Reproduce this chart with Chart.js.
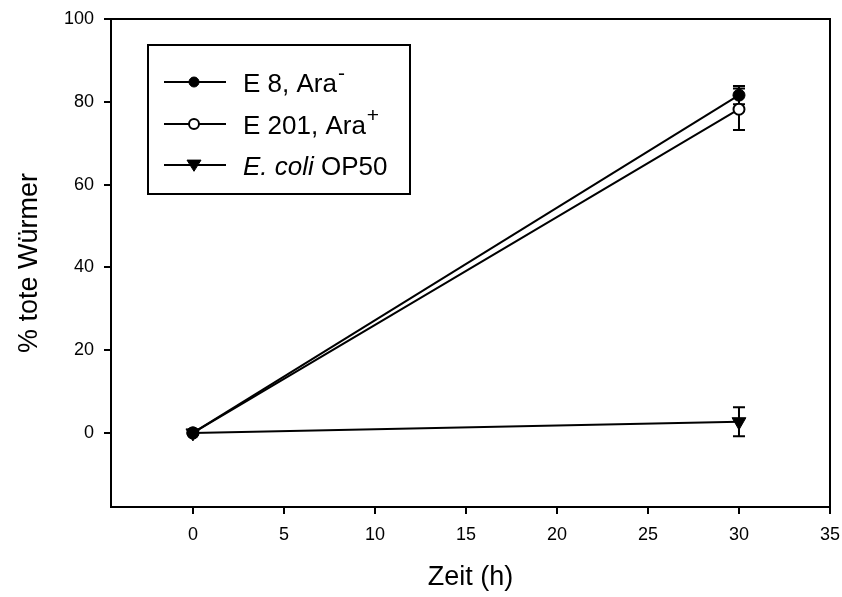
<!DOCTYPE html>
<html>
<head>
<meta charset="utf-8">
<script src="https://cdn.jsdelivr.net/npm/chart.js@4/dist/chart.umd.min.js"></script>
<style>
  html, body { margin: 0; padding: 0; background: #fff; }
  #wrap { width: 842px; height: 597px; }
</style>
</head>
<body>
<div id="wrap"><canvas id="myChart" width="842" height="597"></canvas></div>
<script>
// Initial variables
const times = [0, 30];
const e8Mean = [0, 81.6];
const e8Err = [0, 2.2];
const e201Mean = [0, 78.2];
const e201Err = [0, 5.0];
const op50Mean = [0, 2.7];
const op50Err = [0, 3.5];

const xTicks = [0, 5, 10, 15, 20, 25, 30, 35];
const yTicks = [0, 20, 40, 60, 80, 100];

const FONT = 'Arial, "Liberation Sans", Helvetica, sans-serif';

const toPoints = (ys) => times.map((t, i) => ({ x: t, y: ys[i] }));

// Error bars, drawn under the markers
const errorBars = {
  id: 'errorBars',
  beforeDatasetsDraw(chart) {
    const { ctx, scales: { x, y } } = chart;
    ctx.save();
    ctx.strokeStyle = '#000';
    ctx.lineWidth = 2;
    chart.data.datasets.forEach((ds) => {
      ds.data.forEach((p, i) => {
        const err = ds.errors[i];
        if (!err) return;
        const px = x.getPixelForValue(p.x);
        const top = y.getPixelForValue(p.y + err);
        const bot = y.getPixelForValue(p.y - err);
        ctx.beginPath();
        ctx.moveTo(px, top); ctx.lineTo(px, bot);
        ctx.moveTo(px - 6, top); ctx.lineTo(px + 6, top);
        ctx.moveTo(px - 6, bot); ctx.lineTo(px + 6, bot);
        ctx.stroke();
      });
    });
    ctx.restore();
  }
};

// Box around the plot area (top and right sides)
const frame = {
  id: 'frame',
  afterDraw(chart) {
    const { ctx, chartArea: a } = chart;
    ctx.save();
    ctx.strokeStyle = '#000';
    ctx.lineWidth = 2;
    ctx.strokeRect(a.left, a.top, a.right - a.left, a.bottom - a.top);
    ctx.restore();
  }
};

// Legend box with superscripts and italic species name
const boxLegend = {
  id: 'boxLegend',
  afterDraw(chart) {
    const { ctx } = chart;
    const bx = 148, by = 45, bw = 262, bh = 149;
    const rows = [
      { parts: [['E 8, Ara', 'n'], ['-', 'sup']] },
      { parts: [['E 201, Ara', 'n'], ['+', 'sup']] },
      { parts: [['E. coli', 'i'], [' OP50', 'n']] }
    ];
    const rowY = [82, 124, 165];
    const size = 26;
    ctx.save();
    ctx.fillStyle = '#fff';
    ctx.fillRect(bx, by, bw, bh);
    ctx.strokeStyle = '#000';
    ctx.lineWidth = 2;
    ctx.strokeRect(bx, by, bw, bh);

    rows.forEach((row, i) => {
      const ds = chart.data.datasets[i];
      const cy = rowY[i];
      ctx.strokeStyle = '#000';
      ctx.lineWidth = 2;
      ctx.beginPath();
      ctx.moveTo(164, cy); ctx.lineTo(226, cy);
      ctx.stroke();
      ctx.fillStyle = ds.pointBackgroundColor;
      ctx.strokeStyle = ds.pointBorderColor;
      ctx.lineWidth = ds.pointBorderWidth;
      ctx.beginPath();
      if (ds.pointStyle === 'circle') {
        ctx.arc(194, cy, ds.legendRadius, 0, Math.PI * 2);
      } else {
        const r = ds.legendRadius;
        ctx.moveTo(194 - r, cy - r * 0.7);
        ctx.lineTo(194 + r, cy - r * 0.7);
        ctx.lineTo(194, cy + r * 0.9);
        ctx.closePath();
      }
      ctx.fill();
      ctx.stroke();

      let tx = 243;
      ctx.fillStyle = '#000';
      ctx.textBaseline = 'alphabetic';
      row.parts.forEach(([txt, kind]) => {
        if (kind === 'sup') {
          ctx.font = `${Math.round(size * 0.8)}px ${FONT}`;
          ctx.fillText(txt, tx + 1, cy - 2);
        } else {
          ctx.font = `${kind === 'i' ? 'italic ' : ''}${size}px ${FONT}`;
          ctx.fillText(txt, tx, cy + 10);
        }
        tx += ctx.measureText(txt).width;
      });
    });
    ctx.restore();
  }
};

const ctx = document.getElementById('myChart').getContext('2d');

const myChart = new Chart(ctx, {
  type: 'line',
  data: {
    datasets: [
      {
        label: 'E 8, Ara-',
        data: toPoints(e8Mean),
        errors: e8Err,
        borderColor: '#000',
        borderWidth: 2,
        pointStyle: 'circle',
        pointRadius: 6,
        legendRadius: 5,
        pointBorderWidth: 1,
        pointBackgroundColor: '#000',
        pointBorderColor: '#000'
      },
      {
        label: 'E 201, Ara+',
        data: toPoints(e201Mean),
        errors: e201Err,
        borderColor: '#000',
        borderWidth: 2,
        pointStyle: 'circle',
        pointRadius: 5.5,
        legendRadius: 5,
        pointBorderWidth: 2,
        pointBackgroundColor: '#fff',
        pointBorderColor: '#000'
      },
      {
        label: 'E. coli OP50',
        data: toPoints(op50Mean),
        errors: op50Err,
        borderColor: '#000',
        borderWidth: 2,
        pointStyle: 'triangle',
        pointRotation: 180,
        rotation: 180,
        pointRadius: 8,
        legendRadius: 7,
        pointBorderWidth: 1,
        pointBackgroundColor: '#000',
        pointBorderColor: '#000'
      }
    ]
  },
  options: {
    responsive: false,
    animation: false,
    events: [],
    layout: { padding: { top: 19, right: 12, left: 0, bottom: 0 } },
    scales: {
      x: {
        type: 'linear',
        min: -4.5,
        max: 35,
        afterBuildTicks: (s) => { s.ticks = xTicks.map(v => ({ value: v })); },
        afterFit: (s) => { s.height = 90; s.paddingRight = 0; s.paddingLeft = 0; },
        grid: { drawOnChartArea: false, drawTicks: true, tickLength: 7, color: '#000', lineWidth: 2 },
        border: { display: true, color: '#000', width: 2 },
        ticks: { color: '#000', padding: 10, maxRotation: 0, font: { family: FONT, size: 18 } },
        title: {
          display: true,
          text: 'Zeit (h)',
          color: '#000',
          font: { family: FONT, size: 27 },
          padding: { top: 0, bottom: 3 }
        }
      },
      y: {
        type: 'linear',
        min: -17.9,
        max: 100,
        afterBuildTicks: (s) => { s.ticks = yTicks.map(v => ({ value: v })); },
        afterFit: (s) => { s.width = 111; s.paddingTop = 0; s.paddingBottom = 0; },
        grid: { drawOnChartArea: false, drawTicks: true, tickLength: 7, color: '#000', lineWidth: 2 },
        border: { display: true, color: '#000', width: 2 },
        ticks: { color: '#000', padding: 10, font: { family: FONT, size: 18 } },
        title: {
          display: true,
          text: '% tote Würmer',
          color: '#000',
          font: { family: FONT, size: 27 },
          padding: { top: 13, bottom: 0 }
        }
      }
    },
    plugins: {
      legend: { display: false },
      tooltip: { enabled: false }
    }
  },
  plugins: [errorBars, frame, boxLegend]
});
</script>
</body>
</html>
